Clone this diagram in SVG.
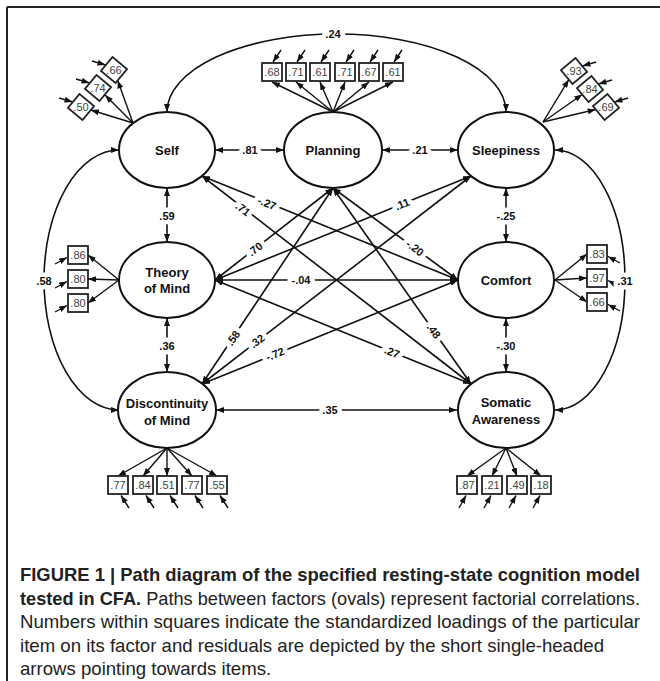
<svg xmlns="http://www.w3.org/2000/svg" width="660" height="681" viewBox="0 0 660 681">
<defs>
<marker id="ah" viewBox="0 0 8 6" refX="8" refY="3" markerWidth="8" markerHeight="6" markerUnits="userSpaceOnUse" orient="auto-start-reverse"><path d="M0,0 L8,3 L0,6 z" fill="#111"/></marker>
</defs>
<style>
.c{fill:none;stroke:#111;stroke-width:1.6;marker-start:url(#ah);marker-end:url(#ah)}
.s{fill:none;stroke:#111;stroke-width:1.4;marker-end:url(#ah)}
.lab{font-family:"Liberation Sans",Arial,sans-serif;font-size:11px;font-weight:bold;fill:#111;text-anchor:middle;stroke:#fff;stroke-width:9;stroke-linejoin:round;paint-order:stroke}
.ov{fill:#fff;stroke:#111;stroke-width:2}
.nt{font-family:"Liberation Sans",Arial,sans-serif;font-size:13px;font-weight:bold;fill:#111;text-anchor:middle}
.bx{fill:#fff;stroke:#222;stroke-width:1.8}
.bt{font-family:"Liberation Sans",Arial,sans-serif;font-size:11px;fill:#444;text-anchor:middle}
.cap{font-family:"Liberation Sans",Arial,sans-serif;font-size:18.6px;fill:#222}
</style>
<rect width="660" height="681" fill="#fff"/>
<path d="M7,7 H660 M7,7 V681" fill="none" stroke="#222" stroke-width="2"/>

<g id="connectors">
<path class="c" d="M167,112 A169.5,78 0 0 1 506,112"/>
<path class="c" d="M119,150 A75,130 0 0 0 119,410"/>
<path class="c" d="M555,150 A70,130 0 0 1 555,410"/>
<path class="c" d="M215,150 L284,150"/>
<path class="c" d="M382,150 L458,150"/>
<path class="c" d="M215,280 L458,280"/>
<path class="c" d="M216,410 L457,410"/>
<path class="c" d="M167,188 L167,242"/>
<path class="c" d="M506,188 L506,242"/>
<path class="c" d="M167,318 L167,372"/>
<path class="c" d="M506,318 L506,372"/>
<path class="c" d="M202,176 L458,280"/>
<path class="c" d="M202,176 L471,384"/>
<path class="c" d="M333,188 L215,280"/>
<path class="c" d="M333,188 L202,384"/>
<path class="c" d="M333,188 L458,280"/>
<path class="c" d="M333,188 L471,384"/>
<path class="c" d="M471,176 L215,280"/>
<path class="c" d="M471,176 L202,384"/>
<path class="c" d="M458,280 L202,384"/>
<path class="c" d="M215,280 L471,384"/>
<path class="s" d="M133,123 L117.7,80.4"/>
<path class="s" d="M133,123 L105.1,95.1"/>
<path class="s" d="M133,123 L90.9,110"/>
<path class="s" d="M543,122 L568.8,79.6"/>
<path class="s" d="M543,122 L582.2,94.5"/>
<path class="s" d="M543,122 L595.7,109.5"/>
<path class="s" d="M333,112 L272,82"/>
<path class="s" d="M333,112 L296,82"/>
<path class="s" d="M333,112 L320,82"/>
<path class="s" d="M333,112 L345,82"/>
<path class="s" d="M333,112 L369,82"/>
<path class="s" d="M333,112 L393,82"/>
<path class="s" d="M119,280 L88,255"/>
<path class="s" d="M119,280 L88,279"/>
<path class="s" d="M119,280 L88,303"/>
<path class="s" d="M555,280 L587,254"/>
<path class="s" d="M555,280 L587,278"/>
<path class="s" d="M555,280 L587,302"/>
<path class="s" d="M167,448 L118,476"/>
<path class="s" d="M167,448 L143,476"/>
<path class="s" d="M167,448 L167,476"/>
<path class="s" d="M167,448 L192,476"/>
<path class="s" d="M167,448 L217,476"/>
<path class="s" d="M506,448 L467,476"/>
<path class="s" d="M506,448 L492,476"/>
<path class="s" d="M506,448 L517,476"/>
<path class="s" d="M506,448 L541,476"/>
<path class="s" d="M92,61 L105.5,65"/>
<path class="s" d="M76,79 L89.5,83"/>
<path class="s" d="M59,98 L72.5,102"/>
<path class="s" d="M596,62 L582.5,66"/>
<path class="s" d="M612,80 L598.5,84"/>
<path class="s" d="M628,98 L614.5,102"/>
<path class="s" d="M281,50 L273,62"/>
<path class="s" d="M305,50 L297,62"/>
<path class="s" d="M329,50 L321,62"/>
<path class="s" d="M354,50 L346,62"/>
<path class="s" d="M378,50 L370,62"/>
<path class="s" d="M402,50 L394,62"/>
<path class="s" d="M55,264 L67,257.5"/>
<path class="s" d="M55,288 L67,281.5"/>
<path class="s" d="M55,312 L67,305.5"/>
<path class="s" d="M620,263 L608,256.5"/>
<path class="s" d="M620,287 L608,280.5"/>
<path class="s" d="M620,311 L608,304.5"/>
<path class="s" d="M129,508 L121,495.5"/>
<path class="s" d="M154,508 L146,495.5"/>
<path class="s" d="M178,508 L170,495.5"/>
<path class="s" d="M203,508 L195,495.5"/>
<path class="s" d="M228,508 L220,495.5"/>
<path class="s" d="M459,508 L466,495.5"/>
<path class="s" d="M484,508 L491,495.5"/>
<path class="s" d="M509,508 L516,495.5"/>
<path class="s" d="M533,508 L540,495.5"/>
<text class="lab" x="333" y="38">.24</text>
<text class="lab" x="44" y="285">.58</text>
<text class="lab" x="625" y="285">.31</text>
<text class="lab" x="250" y="154">.81</text>
<text class="lab" x="420" y="154">.21</text>
<text class="lab" x="301" y="284">-.04</text>
<text class="lab" x="330" y="414">.35</text>
<text class="lab" x="167" y="220">.59</text>
<text class="lab" x="506" y="220">-.25</text>
<text class="lab" x="167" y="350">.36</text>
<text class="lab" x="506" y="350">-.30</text>
<text class="lab" transform="translate(267,203) rotate(22.1)" dy="4">-.27</text>
<text class="lab" transform="translate(243,209) rotate(37.7)" dy="4">.71</text>
<text class="lab" transform="translate(255,249) rotate(-37.9)" dy="4">.70</text>
<text class="lab" transform="translate(233,338) rotate(-56.2)" dy="4">.58</text>
<text class="lab" transform="translate(415,248) rotate(36.4)" dy="4">-.20</text>
<text class="lab" transform="translate(434,331) rotate(54.8)" dy="4">.48</text>
<text class="lab" transform="translate(402,204) rotate(-22.1)" dy="4">.11</text>
<text class="lab" transform="translate(257,341) rotate(-37.7)" dy="4">.32</text>
<text class="lab" transform="translate(275,354) rotate(-22.1)" dy="4">-.72</text>
<text class="lab" transform="translate(392,352) rotate(22.1)" dy="4">.27</text>
</g>

<g id="node-self">
<ellipse class="ov" cx="167" cy="150" rx="48" ry="38"/>
<text class="nt" x="167" y="155">Self</text>
</g>
<g id="node-planning">
<ellipse class="ov" cx="333" cy="150" rx="49" ry="38"/>
<text class="nt" x="333" y="155">Planning</text>
</g>
<g id="node-sleepiness">
<ellipse class="ov" cx="506" cy="150" rx="48" ry="38"/>
<text class="nt" x="506" y="155">Sleepiness</text>
</g>
<g id="node-theory-of-mind">
<ellipse class="ov" cx="167" cy="280" rx="48" ry="38"/>
<text class="nt" x="167" y="277">Theory</text>
<text class="nt" x="167" y="293">of Mind</text>
</g>
<g id="node-comfort">
<ellipse class="ov" cx="506" cy="280" rx="48" ry="38"/>
<text class="nt" x="506" y="285">Comfort</text>
</g>
<g id="node-discontinuity">
<ellipse class="ov" cx="167" cy="410" rx="49" ry="38"/>
<text class="nt" x="167" y="408">Discontinuity</text>
<text class="nt" x="167" y="425">of Mind</text>
</g>
<g id="node-somatic">
<ellipse class="ov" cx="506" cy="410" rx="48" ry="38"/>
<text class="nt" x="506" y="407">Somatic</text>
<text class="nt" x="506" y="424">Awareness</text>
</g>

<g id="items-self">
<rect class="bx" x="-9.5" y="-9" width="19" height="18" transform="translate(114,70) rotate(40)"/>
<rect class="bx" x="-9.5" y="-9" width="19" height="18" transform="translate(98,88) rotate(40)"/>
<rect class="bx" x="-9.5" y="-9" width="19" height="18" transform="translate(81,107) rotate(40)"/>
<text class="bt" x="114" y="74">.66</text>
<text class="bt" x="98" y="92">.74</text>
<text class="bt" x="81" y="111">.50</text>
</g>
<g id="items-sleepiness">
<rect class="bx" x="-9.5" y="-9" width="19" height="18" transform="translate(574,71) rotate(-40)"/>
<rect class="bx" x="-9.5" y="-9" width="19" height="18" transform="translate(590,89) rotate(-40)"/>
<rect class="bx" x="-9.5" y="-9" width="19" height="18" transform="translate(606,107) rotate(-40)"/>
<text class="bt" x="574" y="75">.93</text>
<text class="bt" x="590" y="93">.84</text>
<text class="bt" x="606" y="111">.69</text>
</g>
<g id="items-planning">
<rect class="bx" x="262" y="63" width="20" height="18"/>
<rect class="bx" x="286" y="63" width="20" height="18"/>
<rect class="bx" x="310" y="63" width="20" height="18"/>
<rect class="bx" x="335" y="63" width="20" height="18"/>
<rect class="bx" x="359" y="63" width="20" height="18"/>
<rect class="bx" x="383" y="63" width="20" height="18"/>
<text class="bt" x="272" y="76">.68</text>
<text class="bt" x="296" y="76">.71</text>
<text class="bt" x="320" y="76">.61</text>
<text class="bt" x="345" y="76">.71</text>
<text class="bt" x="369" y="76">.67</text>
<text class="bt" x="393" y="76">.61</text>
</g>
<g id="items-theory-of-mind">
<rect class="bx" x="68" y="246" width="20" height="18"/>
<rect class="bx" x="68" y="270" width="20" height="18"/>
<rect class="bx" x="68" y="294" width="20" height="18"/>
<text class="bt" x="78" y="259">.86</text>
<text class="bt" x="78" y="283">.80</text>
<text class="bt" x="78" y="307">.80</text>
</g>
<g id="items-comfort">
<rect class="bx" x="587" y="245" width="20" height="18"/>
<rect class="bx" x="587" y="269" width="20" height="18"/>
<rect class="bx" x="587" y="293" width="20" height="18"/>
<text class="bt" x="597" y="258">.83</text>
<text class="bt" x="597" y="282">.97</text>
<text class="bt" x="597" y="306">.66</text>
</g>
<g id="items-discontinuity">
<rect class="bx" x="108" y="476" width="20" height="18"/>
<rect class="bx" x="133" y="476" width="20" height="18"/>
<rect class="bx" x="157" y="476" width="20" height="18"/>
<rect class="bx" x="182" y="476" width="20" height="18"/>
<rect class="bx" x="207" y="476" width="20" height="18"/>
<text class="bt" x="118" y="489">.77</text>
<text class="bt" x="143" y="489">.84</text>
<text class="bt" x="167" y="489">.51</text>
<text class="bt" x="192" y="489">.77</text>
<text class="bt" x="217" y="489">.55</text>
</g>
<g id="items-somatic">
<rect class="bx" x="457" y="476" width="20" height="18"/>
<rect class="bx" x="482" y="476" width="20" height="18"/>
<rect class="bx" x="507" y="476" width="20" height="18"/>
<rect class="bx" x="531" y="476" width="20" height="18"/>
<text class="bt" x="467" y="489">.87</text>
<text class="bt" x="492" y="489">.21</text>
<text class="bt" x="517" y="489">.49</text>
<text class="bt" x="541" y="489">.18</text>
</g>

<g id="caption">
<text class="cap" x="20" y="581" font-weight="bold" textLength="620" lengthAdjust="spacingAndGlyphs">FIGURE 1 | Path diagram of the specified resting-state cognition model</text>
<text class="cap" x="20" y="605" textLength="620" lengthAdjust="spacingAndGlyphs"><tspan font-weight="bold">tested in CFA.</tspan> Paths between factors (ovals) represent factorial correlations.</text>
<text class="cap" x="20" y="628" textLength="620" lengthAdjust="spacingAndGlyphs">Numbers within squares indicate the standardized loadings of the particular</text>
<text class="cap" x="20" y="652">item on its factor and residuals are depicted by the short single-headed</text>
<text class="cap" x="20" y="675">arrows pointing towards items.</text>
</g>
</svg>
